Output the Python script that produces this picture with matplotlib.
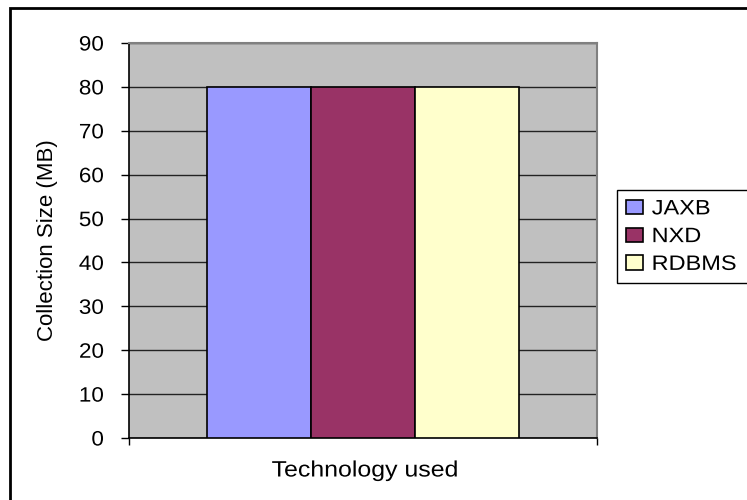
import matplotlib
matplotlib.use("Agg")
import matplotlib.pyplot as plt
from matplotlib.patches import Patch, Rectangle
from matplotlib.patheffects import AbstractPathEffect
from matplotlib.transforms import Affine2D

# data
technologies = ["JAXB", "NXD", "RDBMS"]
collection_size = [80, 80, 80]
bar_colors = ["#9999FF", "#993366", "#FFFFCC"]
y_ticks = [0, 10, 20, 30, 40, 50, 60, 70, 80, 90]

plt.rcParams["font.family"] = ["Liberation Sans", "DejaVu Sans"]


class HStretch(AbstractPathEffect):
    """Widen text along its baseline, keeping one edge (or the centre) fixed."""

    def __init__(self, sx, anchor="center"):
        super().__init__()
        self.sx = sx
        self.anchor = anchor

    def draw_path(self, renderer, gc, tpath, affine, rgbFace=None):
        ext = tpath.get_extents()
        if self.anchor == "left":
            cx = ext.x0
        elif self.anchor == "right":
            cx = ext.x1
        else:
            cx = (ext.x0 + ext.x1) / 2
        t = Affine2D().translate(-cx, 0).scale(self.sx, 1).translate(cx, 0) + affine
        renderer.draw_path(gc, tpath, t, rgbFace)


W, H = 747, 500
fig = plt.figure(figsize=(W / 100, H / 100), dpi=100)

# plot area in pixel coordinates
left, right, top, bottom = 129, 597, 43, 438
ax = fig.add_axes([left / W, 1 - bottom / H, (right - left) / W, (bottom - top) / H])
ax.set_facecolor("#C0C0C0")

bar_w = 104 / (right - left)
for i, (name, val, col) in enumerate(zip(technologies, collection_size, bar_colors)):
    ax.bar(0.5 + (i - 1) * bar_w, val, width=bar_w, color=col,
           edgecolor="black", linewidth=1.2, zorder=3, label=name)

ax.set_xlim(0, 1)
ax.set_ylim(0, 90)
ax.set_yticks(y_ticks)
ax.set_xticks([0, 1])
ax.set_xticklabels([])
ax.yaxis.grid(True, color="#222222", linewidth=1.0, zorder=1)
ax.set_axisbelow(True)

ax.tick_params(axis="y", direction="out", length=6, width=1, pad=12,
               labelsize=15, colors="black")
ax.tick_params(axis="x", direction="out", length=5, width=1)

for side in ("top", "right"):
    ax.spines[side].set_color("#808080")
    ax.spines[side].set_linewidth(1.5)
for side in ("left", "bottom"):
    ax.spines[side].set_color("black")
    ax.spines[side].set_linewidth(1.2)

ax.set_xlabel("Technology used", fontsize=16, path_effects=[HStretch(1.12)])
ax.xaxis.set_label_coords((365 - left) / (right - left), (bottom - 471) / (bottom - top))
ax.xaxis.label.set_va("center")
ax.set_ylabel("Collection Size (MB)", fontsize=16)
ax.yaxis.set_label_coords((48 - left) / (right - left), 0.5)
ax.yaxis.label.set_va("center")

for tick in ax.yaxis.get_major_ticks():
    tick.label1.set_path_effects([HStretch(1.08, "right")])

handles = [Patch(facecolor=c, edgecolor="black", linewidth=1.2) for c in bar_colors]
# legend box runs past the right edge of the picture, as in the original
leg = fig.legend(handles, technologies, loc="upper left", mode="expand",
                 bbox_to_anchor=(617 / W, 1 - 290 / H, 150 / W, 100 / H),
                 fontsize=15, frameon=True, fancybox=False, framealpha=1,
                 edgecolor="black", handlelength=0.82, handleheight=0.67,
                 handletextpad=0.4, labelspacing=0.42, borderpad=0.45,
                 borderaxespad=0)
leg.get_frame().set_linewidth(1.0)
for txt in leg.get_texts():
    txt.set_path_effects([HStretch(1.13, "left")])

# chart border (runs off the right and bottom of the picture)
fig.patches.append(Rectangle((10 / W, -0.1), 1.2, 1.1 - 8 / H,
                             transform=fig.transFigure, fill=False,
                             edgecolor="black", linewidth=2))

fig.savefig("out.png", dpi=100)
